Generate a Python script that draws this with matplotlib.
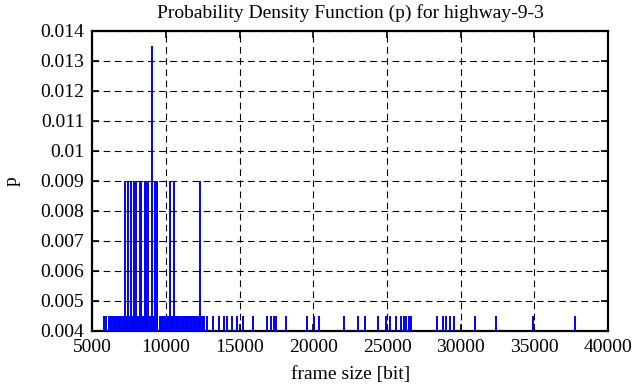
"""Probability density function (impulses) for highway-9-3 frame sizes"""

import matplotlib
matplotlib.use('Agg')
import matplotlib.pyplot as plt

# frame sizes [bit] seen once, twice and three times (N ~ 222 frames)
frames_once = [5790, 5950,
               6150, 6240, 6350, 6440, 6520, 6630, 6710, 6820, 6900, 7010,
               7100, 7180, 7300, 7370, 7520, 7560, 7700, 7750, 7880, 8010,
               8090, 8130, 8320, 8380, 8470, 8520, 8610, 8790, 8830, 8950,
               9100, 9150, 9320, 9400, 9560, 9630, 9720, 9810, 9900,
               10080, 10160, 10300, 10380, 10450, 10640, 10720, 10790,
               10950, 11060, 11140, 11250, 11330, 11420, 11500, 11610, 11700,
               11790, 11880, 11970, 12060, 12150, 12230, 12370, 12480, 12590,
               12775, 13180, 13590, 13930, 14130, 14470, 14810, 15220, 15900,
               16850, 17090, 17290, 17460, 18140, 19565, 20040, 20410, 22080,
               23030, 23500, 24390, 24960, 25170, 25610, 25950, 26150, 26290,
               26490, 26630, 28360, 28770, 28970, 29280, 29550, 30970, 32400,
               34880, 37760]
frames_twice = [7230, 7430, 7610, 7800, 7950, 8200, 8290, 8570, 8650, 8740,
                9270, 9360, 10250, 10520, 12300]
frames_thrice = [9040]

p_once = 0.0045
p_twice = 0.009
p_thrice = 0.0135

xticks = [5000, 10000, 15000, 20000, 25000, 30000, 35000, 40000]
yticks = [0.004, 0.005, 0.006, 0.007, 0.008, 0.009, 0.01, 0.011, 0.012, 0.013, 0.014]

plt.rcParams['font.family'] = ['Liberation Serif', 'DejaVu Serif']

fig = plt.figure(figsize=(6.36, 3.87), dpi=100)
ax = fig.add_axes([0.1454, 0.1455, 0.8106, 0.7752])

for frames, p in [(frames_once, p_once), (frames_twice, p_twice), (frames_thrice, p_thrice)]:
    ax.vlines(frames, 0, p, colors='#0000ff', linewidth=1.4, zorder=3)

ax.set_xlim(5000, 40000)
ax.set_ylim(0.004, 0.014)
ax.set_xticks(xticks)
ax.set_yticks(yticks)
ax.set_xticklabels([str(t) for t in xticks])
ax.set_yticklabels([f'{t:g}' for t in yticks])

ax.grid(True, color='black', linestyle=(0, (6, 4)), linewidth=0.8)
ax.tick_params(direction='in', length=5, width=1.2, top=True, right=True,
               labelsize=14, pad=6)
for s in ax.spines.values():
    s.set_linewidth(1.6)

ax.set_title('Probability Density Function (p) for highway-9-3', fontsize=14, pad=9)
ax.set_xlabel('frame size [bit]', fontsize=14, labelpad=7)
ax.set_ylabel('p', fontsize=14, labelpad=14)

fig.savefig('out.png', dpi=100)
